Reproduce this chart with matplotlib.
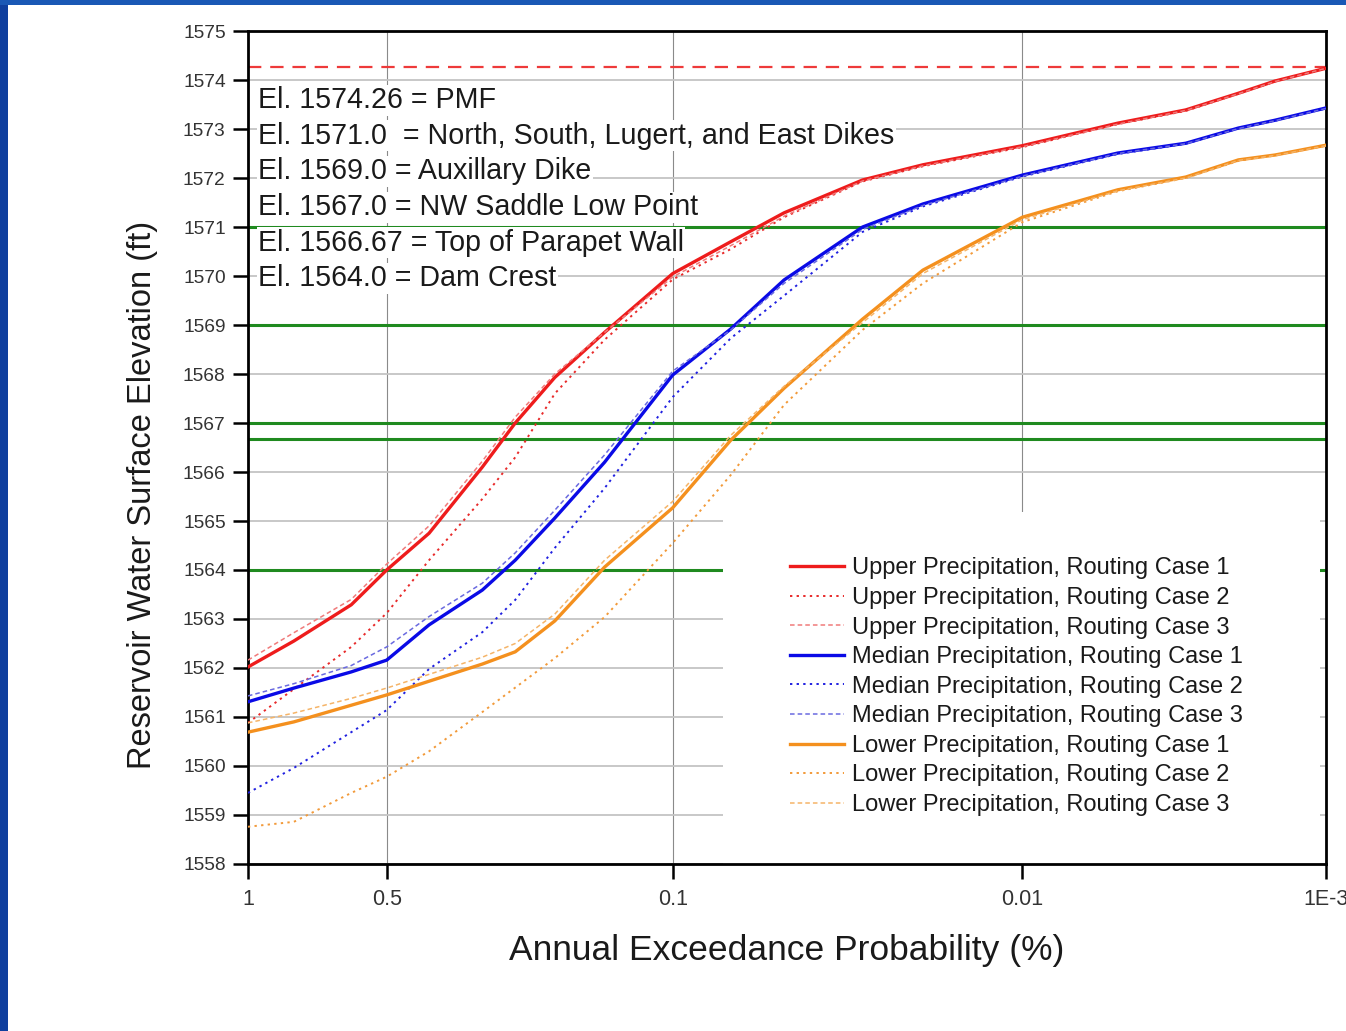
import numpy as np
import matplotlib
matplotlib.use("Agg")
import matplotlib.pyplot as plt
from matplotlib.patches import Rectangle
from matplotlib.ticker import FixedLocator, NullLocator
from statistics import NormalDist

plt.rcParams["font.family"] = ["Liberation Sans", "DejaVu Sans"]

# annual exceedance probability (%)
aep = [1, 0.8, 0.6, 0.5, 0.4, 0.3, 0.25, 0.2, 0.15, 0.1, 0.07, 0.05,
       0.03, 0.02, 0.01, 0.005, 0.003, 0.002, 0.0015, 0.001]

upper_1 = [1562.02, 1562.55, 1563.29, 1564.0, 1564.75, 1566.1, 1567.0, 1567.93, 1568.85, 1570.05,
           1570.7, 1571.29, 1571.96, 1572.27, 1572.66, 1573.12, 1573.39, 1573.73, 1573.98, 1574.24]
upper_2 = [1560.88, 1561.57, 1562.43, 1563.12, 1564.2, 1565.45, 1566.3, 1567.6, 1568.7, 1569.93,
           1570.55, 1571.2, 1571.93, 1572.24, 1572.63, 1573.1, 1573.37, 1573.72, 1573.97, 1574.24]
upper_3 = [1562.16, 1562.72, 1563.4, 1564.12, 1564.9, 1566.22, 1567.12, 1568.0, 1568.85, 1569.98,
           1570.62, 1571.22, 1571.94, 1572.25, 1572.64, 1573.1, 1573.38, 1573.72, 1573.97, 1574.24]

median_1 = [1561.31, 1561.59, 1561.92, 1562.16, 1562.88, 1563.59, 1564.2, 1565.06, 1566.2, 1567.98,
            1568.92, 1569.92, 1571.0, 1571.47, 1572.06, 1572.51, 1572.71, 1573.02, 1573.18, 1573.43]
median_2 = [1559.45, 1559.96, 1560.69, 1561.14, 1561.98, 1562.73, 1563.39, 1564.45, 1565.67, 1567.53,
            1568.73, 1569.6, 1570.9, 1571.42, 1572.03, 1572.49, 1572.7, 1573.01, 1573.17, 1573.42]
median_3 = [1561.43, 1561.68, 1562.05, 1562.43, 1563.05, 1563.73, 1564.35, 1565.22, 1566.35, 1568.06,
            1568.9, 1569.85, 1570.95, 1571.44, 1572.04, 1572.5, 1572.7, 1573.01, 1573.17, 1573.42]

lower_1 = [1560.69, 1560.9, 1561.24, 1561.45, 1561.73, 1562.08, 1562.33, 1562.96, 1564.06, 1565.27,
           1566.65, 1567.71, 1569.12, 1570.12, 1571.2, 1571.76, 1572.02, 1572.37, 1572.47, 1572.67]
lower_2 = [1558.76, 1558.86, 1559.45, 1559.78, 1560.3, 1561.1, 1561.6, 1562.2, 1563.04, 1564.55,
           1565.94, 1567.37, 1568.9, 1569.85, 1571.1, 1571.73, 1572.0, 1572.35, 1572.46, 1572.66]
lower_3 = [1560.88, 1561.08, 1561.38, 1561.59, 1561.87, 1562.22, 1562.5, 1563.1, 1564.2, 1565.4,
           1566.75, 1567.75, 1569.05, 1570.05, 1571.15, 1571.74, 1572.0, 1572.36, 1572.46, 1572.66]

series = [
    ("Upper Precipitation, Routing Case 1", upper_1),
    ("Upper Precipitation, Routing Case 2", upper_2),
    ("Upper Precipitation, Routing Case 3", upper_3),
    ("Median Precipitation, Routing Case 1", median_1),
    ("Median Precipitation, Routing Case 2", median_2),
    ("Median Precipitation, Routing Case 3", median_3),
    ("Lower Precipitation, Routing Case 1", lower_1),
    ("Lower Precipitation, Routing Case 2", lower_2),
    ("Lower Precipitation, Routing Case 3", lower_3),
]

pmf_level = 1574.26
dike_levels = [1571.0, 1569.0, 1567.0, 1566.67, 1564.0]
notes = [
    "El. 1574.26 = PMF",
    "El. 1571.0  = North, South, Lugert, and East Dikes",
    "El. 1569.0 = Auxillary Dike",
    "El. 1567.0 = NW Saddle Low Point",
    "El. 1566.67 = Top of Parapet Wall",
    "El. 1564.0 = Dam Crest",
]
x_ticks = [1, 0.5, 0.1, 0.01, 0.001]
x_tick_labels = ["1", "0.5", "0.1", "0.01", "1E-3"]

# normal probability scale
nd = NormalDist()
_inv_cdf = np.vectorize(nd.inv_cdf, otypes=[float])
_cdf = np.vectorize(nd.cdf, otypes=[float])


def fwd(x):
    q = np.clip(np.asarray(x, dtype=float) / 100.0, 1e-15, 1 - 1e-15)
    return -_inv_cdf(q)


def inv(z):
    return 100.0 * _cdf(-np.asarray(z, dtype=float))


fig = plt.figure(figsize=(13.46, 10.31), dpi=100)
fig.patches.append(Rectangle((0, 0), 8 / 1346, 1, transform=fig.transFigure,
                             facecolor="#0f3f9e", edgecolor="none", zorder=0))
fig.patches.append(Rectangle((0, 1 - 5 / 1031), 1, 5 / 1031, transform=fig.transFigure,
                             facecolor="#1a58b5", edgecolor="none", zorder=0))

ax = fig.add_axes([0.1842, 0.1620, 0.8009, 0.8079])
ax.set_xscale("function", functions=(fwd, inv))

styles = [
    dict(color="#ee1c1c", lw=2.4, ls="-"),
    dict(color="#e82a2a", lw=1.4, ls=(0, (1.2, 2.2))),
    dict(color="#f07a7a", lw=1.1, ls=(0, (3, 2))),
    dict(color="#0a0ae6", lw=2.4, ls="-"),
    dict(color="#2020e0", lw=1.4, ls=(0, (1.2, 2.2))),
    dict(color="#6a6ae0", lw=1.1, ls=(0, (3, 2))),
    dict(color="#f4901e", lw=2.4, ls="-"),
    dict(color="#f29a3a", lw=1.4, ls=(0, (1.2, 2.2))),
    dict(color="#f5b468", lw=1.1, ls=(0, (3, 2))),
]
for (label, vals), st in zip(series, styles):
    ax.plot(aep, vals, label=label, zorder=3, **st)

ax.set_xlim(0.001, 1)
ax.set_ylim(1558, 1575)

ax.xaxis.set_major_locator(FixedLocator(x_ticks))
ax.set_xticklabels(x_tick_labels)
ax.xaxis.set_minor_locator(NullLocator())
ax.set_yticks(np.arange(1558, 1576, 1))
ax.yaxis.set_minor_locator(NullLocator())

ax.set_axisbelow(True)
ax.grid(axis="y", color="#c4c4c4", lw=1.3)
ax.grid(axis="x", color="#8a8a8a", lw=0.8)

for s in ax.spines.values():
    s.set_linewidth(2.0)
    s.set_color("black")
ax.tick_params(axis="both", direction="out", length=11, width=1.8, colors="black")
ax.tick_params(axis="y", labelsize=13.8, labelcolor="#333333", pad=5)
ax.tick_params(axis="x", labelsize=15.5, labelcolor="#333333", pad=7)

ax.axhline(pmf_level, color="#ee3a3a", lw=1.6, ls=(0, (6, 4)), zorder=2)
for lev in dike_levels:
    ax.axhline(lev, color="#1f8a1f", lw=2.2, zorder=2)

# white box behind legend
ax.add_patch(Rectangle((0.4406, 0.0), 0.5538, 0.422, transform=ax.transAxes,
                       facecolor="white", edgecolor="none", zorder=2.5))

for i, t in enumerate(notes):
    ax.text(0.0093, 0.917 - i * 0.0428, t, transform=ax.transAxes, fontsize=20.6,
            color="#1a1a1a", va="center", ha="left", zorder=2.6,
            bbox=dict(facecolor="white", edgecolor="none", pad=1.0))

leg = ax.legend(loc="upper left", bbox_to_anchor=(0.503, 0.368), frameon=False,
                fontsize=17, handlelength=2.3, handletextpad=0.3,
                labelspacing=0.32, borderaxespad=0, borderpad=0)
for t in leg.get_texts():
    t.set_color("#1a1a1a")
leg.set_zorder(4)

ax.set_xlabel("Annual Exceedance Probability (%)", fontsize=25.5, color="#1a1a1a", labelpad=17)
ax.set_ylabel("Reservoir Water Surface Elevation (ft)", fontsize=23.5, color="#1a1a1a")
ax.yaxis.set_label_coords(-0.0835, 0.443)

fig.savefig("out.png", dpi=100, facecolor="white")
